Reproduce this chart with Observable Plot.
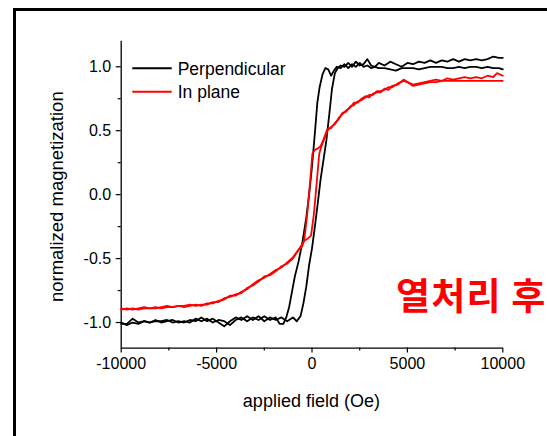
<!DOCTYPE html>
<html><head><meta charset="utf-8">
<script src="https://cdn.jsdelivr.net/npm/d3@7"></script>
<script src="https://cdn.jsdelivr.net/npm/@observablehq/plot@0.6"></script>
<style>
html,body{margin:0;padding:0;background:#fff;overflow:hidden;}
#wrap{position:relative;width:547px;height:436px;overflow:hidden;background:#fff;}
#frame{position:absolute;left:13px;top:7.5px;width:700px;height:600px;border-left:3.5px solid #000;border-top:3.5px solid #000;}
#wrap svg{position:absolute;left:0;top:0;}
</style></head><body><div id="wrap"><div id="frame"></div></div>
<script>
// ---- data ----
const seriesNames = ["Perpendicular", "In plane"];
const seriesColors = ["#000000", "#ff0000"];

const perpUpH = [-10000,-9700,-9400,-9100,-8800,-8500,-8200,-7900,-7600,-7300,-7000,-6700,-6400,-6100,-5800,-5500,-5200,-4900,-4600,-4300,-4000,-3700,-3400,-3100,-2800,-2500,-2200,-1900,-1600,-1300,-1000,-800,-600,-450,-300,-150,0,150,300,450,600,750,900,1050,1200,1350,1500,1700,1900,2100,2300,2500,2700,2900,3100,3300,3500,3800,4100,4400,4700,5000,5300,5600,5900,6200,6500,6800,7100,7400,7700,8000,8300,8600,8900,9200,9500,9800,10000];
const perpUpM = [-1.01,-1.01,-0.97,-1.00,-0.99,-1.00,-0.99,-0.99,-0.98,-1.00,-0.99,-1.00,-0.98,-0.99,-0.96,-0.99,-0.97,-1.00,-1.03,-0.99,-0.96,-0.98,-0.95,-0.98,-0.95,-0.99,-0.96,-0.98,-0.96,-0.99,-0.96,-0.99,-0.95,-0.85,-0.72,-0.55,-0.42,-0.25,-0.07,0.12,0.27,0.42,0.62,0.83,0.95,0.99,1.01,1.00,1.03,1.00,1.04,1.01,1.02,1.06,1.01,1.00,1.03,1.01,1.04,1.02,1.00,1.03,1.02,1.04,1.03,1.05,1.03,1.05,1.04,1.06,1.04,1.06,1.05,1.06,1.05,1.06,1.08,1.07,1.07];

const perpDownH = [-10000,-9700,-9400,-9100,-8800,-8500,-8200,-7900,-7600,-7300,-7000,-6700,-6400,-6100,-5800,-5500,-5200,-4900,-4600,-4300,-4000,-3700,-3400,-3100,-2800,-2500,-2200,-1900,-1700,-1500,-1350,-1200,-1050,-900,-700,-500,-300,-150,0,150,280,400,550,700,850,1000,1150,1300,1500,1700,1900,2100,2300,2500,2700,2900,3100,3300,3500,3800,4100,4400,4700,5000,5300,5600,5900,6200,6500,6800,7100,7400,7700,8000,8300,8600,8900,9200,9500,9800,10000];
const perpDownM = [-1.00,-1.02,-1.00,-1.01,-0.99,-1.00,-0.98,-1.00,-0.99,-0.98,-1.00,-0.99,-1.00,-0.97,-0.99,-0.97,-1.00,-0.98,-0.99,-1.02,-0.98,-0.96,-0.99,-0.96,-0.98,-0.95,-0.98,-0.96,-1.01,-1.01,-0.96,-0.88,-0.76,-0.64,-0.52,-0.37,-0.18,0.00,0.22,0.48,0.72,0.84,0.94,0.99,0.98,0.93,0.97,1.00,0.99,1.02,0.99,1.02,1.00,1.03,1.00,1.01,0.99,1.00,0.99,0.99,0.98,0.97,0.99,0.99,0.99,0.98,0.99,1.00,1.00,1.00,0.99,0.99,1.00,0.99,1.00,1.00,0.99,1.00,0.99,0.99,0.98];

const planeUpH = [-10000,-9700,-9400,-9100,-8800,-8500,-8200,-7900,-7600,-7300,-7000,-6700,-6400,-6100,-5800,-5500,-5200,-4900,-4600,-4300,-4000,-3700,-3400,-3100,-2800,-2500,-2200,-1900,-1600,-1300,-1000,-700,-400,-200,-50,100,250,380,500,650,800,1000,1200,1400,1600,1800,2000,2200,2400,2600,2800,3000,3200,3400,3600,3800,4000,4200,4500,4800,5000,5300,5600,5900,6200,6500,6800,7100,7400,7700,8000,8300,8600,8900,9200,9500,9700,10000];
const planeUpM = [-0.89,-0.90,-0.89,-0.90,-0.89,-0.89,-0.88,-0.89,-0.88,-0.88,-0.87,-0.88,-0.87,-0.86,-0.87,-0.85,-0.85,-0.83,-0.82,-0.79,-0.79,-0.76,-0.74,-0.70,-0.67,-0.65,-0.62,-0.59,-0.57,-0.53,-0.49,-0.43,-0.36,-0.34,-0.32,-0.15,0.10,0.32,0.38,0.44,0.50,0.53,0.55,0.60,0.63,0.66,0.68,0.72,0.72,0.75,0.77,0.76,0.79,0.80,0.80,0.83,0.82,0.85,0.86,0.90,0.88,0.86,0.87,0.88,0.89,0.90,0.89,0.91,0.90,0.91,0.92,0.91,0.92,0.91,0.93,0.92,0.95,0.93];

const planeDownH = [-10000,-9700,-9400,-9100,-8800,-8500,-8200,-7900,-7600,-7300,-7000,-6700,-6400,-6100,-5800,-5500,-5200,-4900,-4600,-4300,-4000,-3700,-3400,-3100,-2800,-2500,-2200,-1900,-1600,-1300,-1000,-700,-500,-400,-250,-100,20,150,300,450,600,800,1000,1200,1400,1600,1800,2000,2200,2400,2600,2800,3000,3200,3400,3600,3800,4000,4200,4500,4800,5000,5300,5600,5900,6200,6500,6800,7100,7400,7700,8000,8300,8600,8900,9200,9500,9800,10000];
const planeDownM = [-0.90,-0.89,-0.90,-0.89,-0.88,-0.89,-0.89,-0.88,-0.87,-0.88,-0.87,-0.87,-0.86,-0.87,-0.86,-0.86,-0.84,-0.84,-0.81,-0.80,-0.78,-0.77,-0.73,-0.71,-0.68,-0.64,-0.63,-0.60,-0.56,-0.54,-0.50,-0.43,-0.40,-0.35,-0.15,0.10,0.32,0.35,0.36,0.38,0.43,0.51,0.52,0.56,0.59,0.64,0.65,0.69,0.70,0.73,0.74,0.76,0.78,0.78,0.81,0.81,0.82,0.84,0.84,0.87,0.89,0.88,0.85,0.86,0.87,0.88,0.88,0.89,0.89,0.89,0.89,0.89,0.89,0.89,0.89,0.89,0.89,0.89,0.89];

const xMajor = [-10000, -5000, 0, 5000, 10000];
const xMinor = [-7500, -2500, 2500, 7500];
const yMajor = [-1.0, -0.5, 0.0, 0.5, 1.0];
const yMinor = [-0.75, -0.25, 0.25, 0.75];
const xLabel = "applied field (Oe)";
const yLabel = "normalized magnetization";
const note = "열처리 후";
const noteAt = {H: 4400, M: -0.81};

// ---- table ----
const branches = [
  {series: seriesNames[0], branch: "perp-up", H: perpUpH, M: perpUpM},
  {series: seriesNames[0], branch: "perp-down", H: perpDownH, M: perpDownM},
  {series: seriesNames[1], branch: "plane-up", H: planeUpH, M: planeUpM},
  {series: seriesNames[1], branch: "plane-down", H: planeDownH, M: planeDownM}
];
const rows = branches.flatMap(b => b.H.map((h, i) => ({H: h, M: b.M[i], series: b.series, branch: b.branch})));

const font = "'Liberation Sans', Arial, Helvetica, sans-serif";

const svgEl = Plot.plot({
  width: 547, height: 436,
  marginLeft: 120.7, marginRight: 44.7, marginTop: 40.7, marginBottom: 88.4,
  style: {fontFamily: font, background: "transparent", color: "#000", overflow: "visible"},
  x: {domain: [-10000, 10000]},
  y: {domain: [-1.2, 1.2]},
  color: {domain: seriesNames, range: seriesColors},
  marks: [
    Plot.axisX(xMajor, {tickSize: 5, tickPadding: 5, fontSize: 16, tickFormat: d => String(d), label: null, strokeWidth: 1.2}),
    Plot.axisX(xMinor, {tickSize: 3, tickFormat: () => "", label: null, strokeWidth: 1.2}),
    Plot.axisY(yMajor, {tickSize: 5, tickPadding: 5, fontSize: 16, tickFormat: d => d.toFixed(1), label: null, strokeWidth: 1.2}),
    Plot.axisY(yMinor, {tickSize: 3, tickFormat: () => "", label: null, strokeWidth: 1.2}),
    Plot.ruleX([-10000], {y1: -1.2, y2: 1.2, strokeWidth: 1.3}),
    Plot.ruleY([-1.2], {x1: -10000, x2: 10000, strokeWidth: 1.3}),
    Plot.line(rows, {x: "H", y: "M", z: "branch", stroke: "series", strokeWidth: 1.8, curve: "linear"}),
    Plot.text([note], {x: () => noteAt.H, y: () => noteAt.M, text: d => d, textAnchor: "start", lineAnchor: "middle",
      fill: "#ff0000", fontWeight: "bold", fontSize: 37, fontFamily: "'Noto Sans CJK KR', sans-serif",
      className: "note"})
  ]
});

const svg = d3.select(svgEl);
svg.selectAll(".note text").style("letter-spacing", "1.2px");
svg.append("text").attr("x", 311.4).attr("y", 406.5).attr("text-anchor", "middle")
  .attr("font-size", 18).attr("font-family", font).attr("fill", "#000").text(xLabel);
svg.append("text").attr("transform", "translate(63.3,196.7) rotate(-90)").attr("text-anchor", "middle")
  .attr("font-size", 18.5).attr("font-family", font).attr("fill", "#000").text(yLabel);

// legend
const leg = svg.append("g");
seriesNames.forEach((name, i) => {
  const y = 68.3 + i * 23.4;
  leg.append("line").attr("x1", 132.3).attr("x2", 171.7).attr("y1", y).attr("y2", y)
    .attr("stroke", seriesColors[i]).attr("stroke-width", 2);
  leg.append("text").attr("x", 177.7).attr("y", y + 6.2).attr("text-anchor", "start").attr("font-size", 17.5)
    .attr("font-family", font).attr("fill", "#000").text(name);
});

document.getElementById("wrap").appendChild(svgEl);
</script>
</body></html>
